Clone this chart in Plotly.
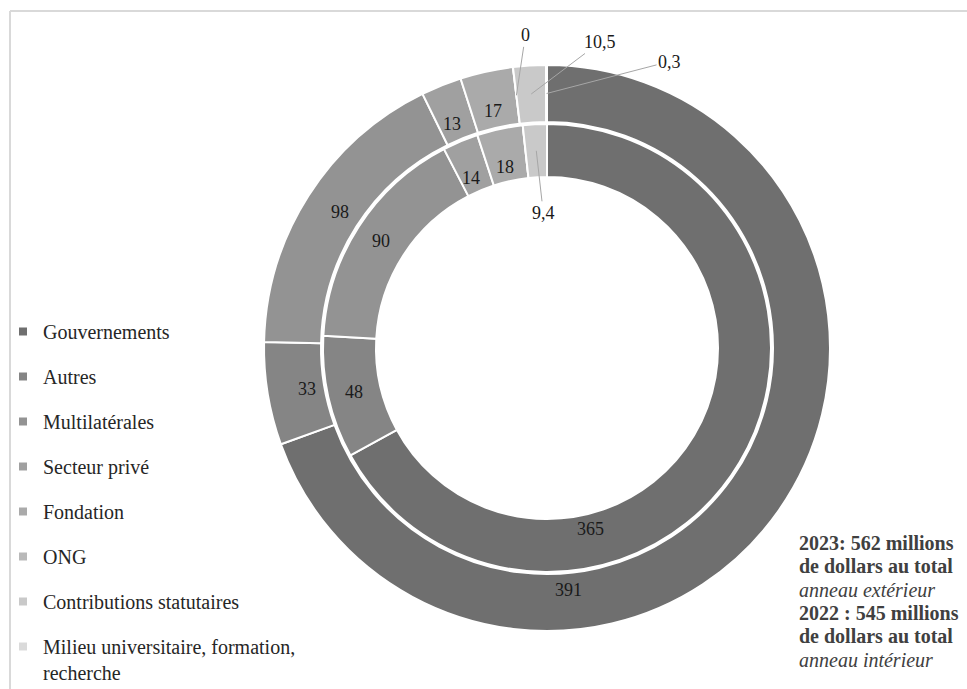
import math
import plotly.graph_objects as go

# ---------------- data ----------------
categories = [
    "Gouvernements",
    "Autres",
    "Multilatérales",
    "Secteur privé",
    "Fondation",
    "ONG",
    "Contributions statutaires",
    "Milieu universitaire, formation, recherche",
]
legend_names = [
    "Gouvernements",
    "Autres",
    "Multilatérales",
    "Secteur privé",
    "Fondation",
    "ONG",
    "Contributions statutaires",
    "Milieu universitaire, formation,<br>recherche",
]
values_2023 = [391, 33, 98, 13, 17, 0, 10.5, 0.3]   # outer ring
values_2022 = [365, 48, 90, 14, 18, 0, 9.4, 0]      # inner ring
note_lines = [
    "<b>2023: 562 millions</b>",
    "<b>de dollars au total</b>",
    "<i>anneau extérieur</i>",
    "<b>2022 : 545 millions</b>",
    "<b>de dollars au total</b>",
    "<i>anneau intérieur</i>",
]

# ---------------- style ----------------
colors = ["#6f6f6f", "#858585", "#939393", "#a0a0a0",
          "#aaaaaa", "#b9b9b9", "#c9c9c9", "#dadada"]
W, H = 967, 689
CX, CY = 547, 348
R_OUT, R_OUT_HOLE = 283, 226
R_IN, R_IN_HOLE = 224, 171
FONT = "'Liberation Serif', 'Times New Roman', 'DejaVu Serif', serif"
NOTE_X, NOTE_Y0, NOTE_DY = 797, 543, 23.3

# label placement along slice (fraction of slice span), default 0.5
label_frac = {("out", 0): 0.70, ("in", 0): 0.693, ("out", 2): 0.55}
# outside labels with leader lines: pixel offsets of text from anchor
outside = {("out", 5): (9, -60), ("out", 6): (69, -52),
           ("out", 7): (123, -32), ("in", 6): (7, 62)}


def fmt(v):
    s = ("%g" % v)
    return s.replace(".", ",")


def domain(r):
    return dict(x=[(CX - r) / W, (CX + r) / W],
                y=[1 - (CY + r) / H, 1 - (CY - r) / H])


fig = go.Figure()
fig.add_trace(go.Pie(
    labels=categories, values=values_2023, sort=False, direction="clockwise",
    rotation=0, hole=R_OUT_HOLE / R_OUT, domain=domain(R_OUT),
    marker=dict(colors=colors, line=dict(color="white", width=2)),
    textinfo="none", showlegend=False, name="2023",
    hovertemplate="%{label}: %{value}<extra>2023</extra>"))
fig.add_trace(go.Pie(
    labels=categories, values=values_2022, sort=False, direction="clockwise",
    rotation=0, hole=R_IN_HOLE / R_IN, domain=domain(R_IN),
    marker=dict(colors=colors, line=dict(color="white", width=2)),
    textinfo="none", showlegend=False, name="2022",
    hovertemplate="%{label}: %{value}<extra>2022</extra>"))

annotations = []


def ring_labels(vals, ring, r_mid, show_zero):
    total = sum(vals)
    start = 0.0
    for i, v in enumerate(vals):
        span = v / total * 360.0
        if v > 0 or show_zero:
            f = label_frac.get((ring, i), 0.5)
            a = math.radians(start + f * span)
            px = CX + r_mid * math.sin(a)
            py = CY - r_mid * math.cos(a)
            ann = dict(x=px / W, y=1 - py / H, xref="paper", yref="paper",
                       text=fmt(v), font=dict(family=FONT, size=18, color="#1a1a1a"))
            if (ring, i) in outside:
                ax, ay = outside[(ring, i)]
                ann.update(showarrow=True, arrowhead=0, arrowwidth=1,
                           arrowcolor="#a6a6a6", ax=ax, ay=ay, standoff=0)
            else:
                ann.update(showarrow=False)
            annotations.append(ann)
        start += span


ring_labels(values_2023, "out", (R_OUT + R_OUT_HOLE) / 2, True)
ring_labels(values_2022, "in", (R_IN + R_IN_HOLE) / 2, False)

for k, line in enumerate(note_lines):
    annotations.append(dict(x=NOTE_X / W, y=1 - (NOTE_Y0 + k * NOTE_DY) / H,
                            xref="paper", yref="paper", xanchor="left", yanchor="middle",
                            align="left", showarrow=False, text=line,
                            font=dict(family=FONT, size=20, color="#404040")))

# legend entries (dummy traces so item spacing can be controlled)
for i, (name, c) in enumerate(zip(legend_names, colors)):
    fig.add_trace(go.Scatter(x=[None], y=[None], mode="markers", name=name,
                             legendgroup="g%d" % i,
                             marker=dict(symbol="square", size=8, color=c),
                             hoverinfo="skip"))

fig.update_layout(
    width=W, height=H, margin=dict(l=0, r=0, t=0, b=0, autoexpand=False),
    paper_bgcolor="white", plot_bgcolor="white",
    xaxis=dict(visible=False), yaxis=dict(visible=False),
    annotations=annotations,
    legend=dict(x=3 / W, y=1 - 312 / H, xanchor="left", yanchor="top",
                traceorder="grouped", tracegroupgap=16, valign="top",
                font=dict(family=FONT, size=20, color="#262626"),
                bgcolor="rgba(0,0,0,0)"),
    shapes=[
        dict(type="line", xref="paper", yref="paper", x0=10 / W, x1=1.0,
             y0=1 - 11 / H, y1=1 - 11 / H, line=dict(color="#d9d9d9", width=2)),
        dict(type="line", xref="paper", yref="paper", x0=10 / W, x1=10 / W,
             y0=0, y1=1 - 11 / H, line=dict(color="#d9d9d9", width=2)),
    ],
)

fig.write_html("out.html")
